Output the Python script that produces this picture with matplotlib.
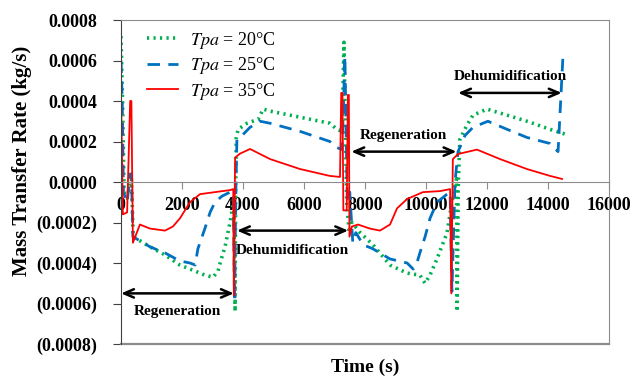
import matplotlib
matplotlib.use("Agg")
import matplotlib.pyplot as plt
from matplotlib.ticker import FuncFormatter

# Mass transfer rate (kg/s) over time (s) for three process air temperatures
t_20 = [0, 50, 100, 200, 300, 340, 400, 950, 1440, 1930, 2430, 2750, 3020, 3180, 3250,
        3410, 3575, 3640, 3700, 3740, 3760, 3780, 3840, 4130, 4500, 4660, 4890, 5870,
        6850, 7080, 7250, 7310, 7400, 7480, 7570, 7840, 8260, 8820, 9380, 9800, 9970,
        10130, 10360, 10690, 10850, 11000, 11020, 11060, 11110, 11340, 11540, 12000,
        12660, 13310, 14070, 14490, 14660]
v_20 = [0.00072, 0.0004, -0.00005, -0.00008, 0.0, 0.00003, -0.00027, -0.00032, -0.00036,
        -0.00041, -0.00044, -0.00046, -0.00047, -0.00044, -0.0004, -0.00032, -0.0002,
        -0.00014, -0.00007, -0.00064, 0.0, 0.00022, 0.00026, 0.00029, 0.00031, 0.00036,
        0.00035, 0.00032, 0.00029, 0.00026, 0.00025, 0.00069, -0.0001, -0.00025, -0.0002,
        -0.00025, -0.00031, -0.00041, -0.00045, -0.00046, -0.0005, -0.00046, -0.00038,
        -0.00025, -0.0001, 0.000015, -0.00064, 0.0, 0.00021, 0.00028, 0.00033, 0.00036,
        0.00033, 0.0003, 0.00026, 0.00024, 0.00023]

t_25 = [0, 40, 80, 200, 300, 340, 390, 950, 1440, 1930, 2260, 2430, 2520, 2750, 2920,
        3080, 3310, 3575, 3680, 3720, 3770, 3800, 3970, 4230, 4560, 4890, 5870, 6850,
        7080, 7250, 7340, 7420, 7500, 7600, 7700, 7940, 8260, 8820, 9380, 9580, 9700,
        9800, 9970, 10130, 10360, 10690, 10790, 10850, 10950, 11050, 11280, 11540,
        12030, 12660, 13310, 14070, 14330, 14490]
v_25 = [0.0006, 0.0004, -0.00005, -0.0001, 0.00004, 0.00004, -0.00027, -0.00032, -0.00035,
        -0.00039, -0.0004, -0.00041, -0.00033, -0.00023, -0.00015, -0.0001, -0.00007,
        -0.00005, -0.00005, -0.00058, 0.0, 0.00021, 0.00023, 0.00027, 0.0003, 0.00029,
        0.00025, 0.0002, 0.00017, 0.00016, 0.00062, -0.0001, -0.00005, -0.0003, -0.00025,
        -0.00031, -0.00033, -0.00038, -0.0004, -0.00043, -0.0004, -0.00035, -0.00027,
        -0.00018, -0.0001, -0.00006, -0.00005, -0.00054, 0.0, 0.00015, 0.00023, 0.00027,
        0.0003, 0.00026, 0.00022, 0.00019, 0.00015, 0.00062]

t_35 = [0, 60, 200, 300, 340, 390, 620, 950, 1440, 1700, 1930, 2260, 2590, 3080, 3575,
        3680, 3700, 3740, 3900, 4230, 4890, 5870, 6850, 7180, 7220, 7260, 7290, 7400,
        7440, 7470, 7490, 7570, 7770, 8160, 8490, 8820, 9050, 9380, 9900, 10460, 10790,
        10830, 10880, 11050, 11670, 12430, 13310, 14070, 14460]
v_35 = [0.00044, -0.00016, -0.00015, 0.0004, 0.0004, -0.0003, -0.00021, -0.00023, -0.00024,
        -0.00022, -0.00018, -0.0001, -0.00006, -0.00005, -0.00004, -0.000035, -0.00056,
        0.00012, 0.00014, 0.000163, 0.000113, 0.000064, 0.00003, 0.000025, 0.00044,
        0.00044, -0.00014, -0.00014, 0.00043, 0.00043, -0.00027, -0.00022, -0.00021,
        -0.00023, -0.00024, -0.00021, -0.00013, -0.000084, -0.00005, -0.000045,
        -0.000035, -0.00055, 0.000113, 0.000138, 0.00016, 0.000113, 0.000064, 0.00003,
        0.000015]

# phases: (label, start, end, arrow level, text level)
phases = [("Regeneration", 0, 3700, -0.00055, -0.00064),
          ("Dehumidification", 3800, 7450, -0.00024, -0.00034),
          ("Regeneration", 7550, 11000, 0.00015, 0.00023),
          ("Dehumidification", 11050, 14450, 0.00044, 0.00052)]

plt.rcParams["mathtext.fontset"] = "stix"
serif = "Liberation Serif"

fig = plt.figure(figsize=(6.42, 3.76), dpi=100)
ax = fig.add_axes([0.1885, 0.0851, 0.7601, 0.8617])

ax.plot(t_20, v_20, color="#00B050", lw=2.6, linestyle=(0, (0.6, 1.2)),
        label=r"$\mathit{Tpa}$ = 20°C")
ax.plot(t_25, v_25, color="#0070C0", lw=2.0, linestyle=(0, (4.5, 3)),
        label=r"$\mathit{Tpa}$ = 25°C")
ax.plot(t_35, v_35, color="#FF0000", lw=1.3, label=r"$\mathit{Tpa}$ = 35°C")

for name, a, b, lvl, tl in phases:
    ax.annotate("", xy=(a, lvl), xytext=(b, lvl),
                arrowprops=dict(arrowstyle="<->,head_length=0.7,head_width=0.3",
                                color="black", lw=1.8, shrinkA=0, shrinkB=0))
    ax.text((a + b) / 2, tl, name, ha="center", va="center", fontsize=11,
            fontweight="bold", family=serif)

ax.set_xlim(0, 16000)
ax.set_ylim(-0.0008, 0.0008)
ax.set_xticks(range(0, 16001, 2000))
ax.set_yticks([-0.0008, -0.0006, -0.0004, -0.0002, 0, 0.0002, 0.0004, 0.0006, 0.0008])

def yfmt(v, pos):
    s = "%.4f" % abs(v)
    return "(%s)" % s if v < -1e-12 else s

ax.yaxis.set_major_formatter(FuncFormatter(yfmt))

ax.spines["bottom"].set_position(("data", 0))
for s in ["bottom", "top", "right"]:
    ax.spines[s].set_color("#8c8c8c")
ax.spines["left"].set_color("#404040")
ax.axhline(-0.0008, color="#8c8c8c", lw=1.6, clip_on=False)

ax.tick_params(axis="x", direction="out", length=5, color="#8c8c8c", pad=6)
ax.tick_params(axis="y", direction="out", length=6, color="#404040", pad=11)
for lab in ax.get_xticklabels() + ax.get_yticklabels():
    lab.set_fontfamily(serif)
    lab.set_fontweight("bold")
    lab.set_fontsize(13)

ax.set_xlabel("Time (s)", fontsize=14, fontweight="bold", family=serif)
ax.set_ylabel("Mass Transfer Rate (kg/s)", fontsize=15, fontweight="bold", family=serif)
ax.xaxis.set_label_coords(0.5, -0.045)
ax.yaxis.set_label_coords(-0.182, 0.565)

ax.legend(loc="upper left", bbox_to_anchor=(0.02, 1.02), frameon=False,
          prop={"family": serif, "size": 13}, handlelength=1.7,
          handletextpad=0.7, labelspacing=0.25)

fig.savefig("out.png", dpi=100)
